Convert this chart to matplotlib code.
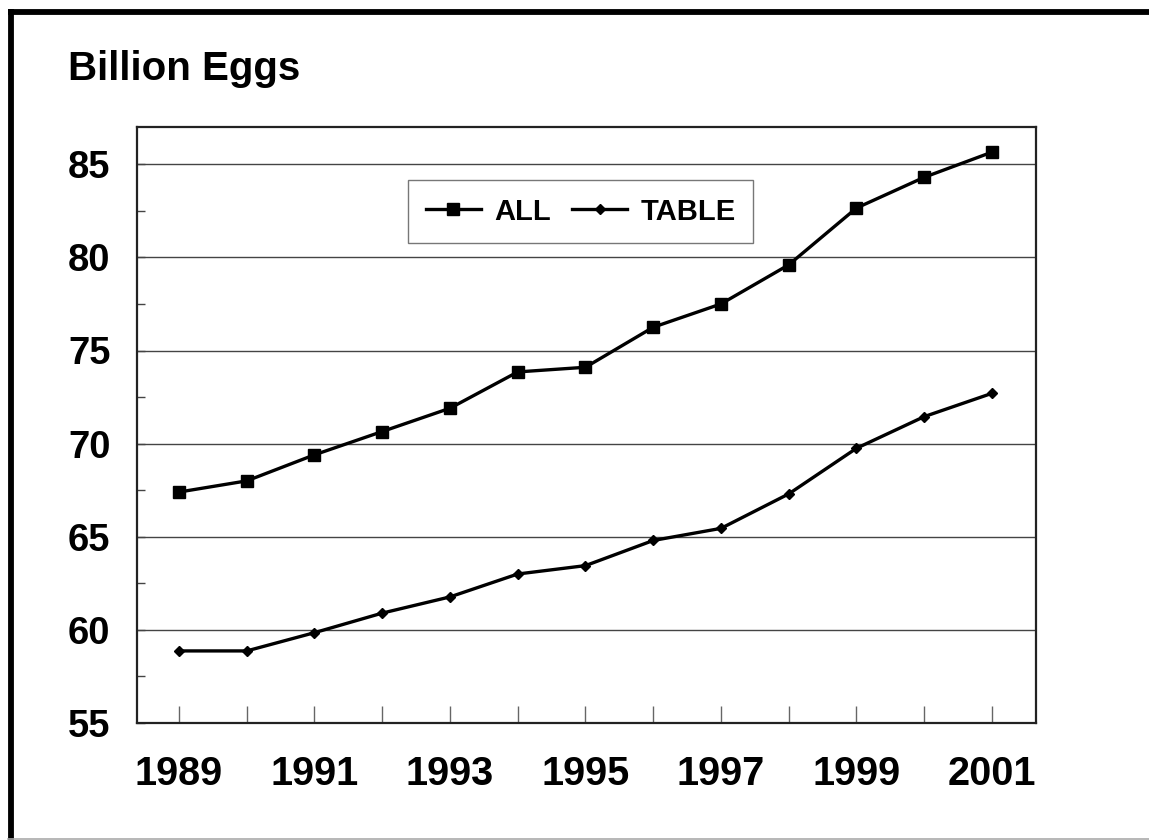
import matplotlib
matplotlib.use("Agg")
import matplotlib.pyplot as plt
from matplotlib.lines import Line2D
from matplotlib.ticker import MultipleLocator

years = [1989, 1990, 1991, 1992, 1993, 1994, 1995, 1996, 1997, 1998, 1999, 2000, 2001]
all_eggs = [67.4, 68.0, 69.4, 70.65, 71.9, 73.85, 74.1, 76.25, 77.5, 79.6, 82.65, 84.3, 85.65]
table_eggs = [58.87, 58.87, 59.85, 60.9, 61.77, 63.0, 63.45, 64.8, 65.45, 67.3, 69.75, 71.45, 72.7]
tick_labels = ["1989", "", "1991", "", "1993", "", "1995", "", "1997", "", "1999", "", "2001"]

plt.rcParams['font.family'] = ['Liberation Sans', 'DejaVu Sans']
plt.rcParams['font.weight'] = 'bold'

W, H = 1149, 840
fig = plt.figure(figsize=(W / 100, H / 100), dpi=100)
ax = fig.add_axes([137 / W, 1 - 723 / H, (1036 - 137) / W, (723 - 127) / H])

x = list(range(len(years)))
ax.plot(x, all_eggs, color='black', lw=2.4, marker='s', markersize=9, label='ALL', zorder=3)
ax.plot(x, table_eggs, color='black', lw=2.4, marker='D', markersize=5, label='TABLE', zorder=3)

ax.set_xlim(-0.62, 12.65)
ax.set_ylim(55, 87)
ax.set_yticks([55, 60, 65, 70, 75, 80, 85])
ax.yaxis.set_minor_locator(MultipleLocator(2.5))
ax.set_xticks(x)
ax.set_xticklabels(tick_labels)
ax.grid(axis='y', which='major', color='#444444', lw=1.0)
ax.set_axisbelow(True)

ax.tick_params(axis='x', direction='in', length=12, width=1, color='#666666',
               labelsize=28.5, pad=23)
ax.tick_params(axis='y', which='both', direction='in', length=6, width=1, color='#444444',
               labelsize=27.5, pad=19)
for lab in ax.get_xticklabels() + ax.get_yticklabels():
    lab.set_fontweight('bold')

for s in ax.spines.values():
    s.set_color('#222222')
    s.set_linewidth(1.6)

fig.text(68 / W, 1 - 80 / H, "Billion Eggs", fontsize=29, fontweight='bold',
         ha='left', va='baseline')

leg = ax.legend(loc='upper left', bbox_to_anchor=(408 / W, 1 - 180 / H),
                bbox_transform=fig.transFigure, ncol=2, frameon=True, fancybox=False,
                edgecolor='#555555', borderaxespad=0, prop={'size': 21, 'weight': 'bold'},
                handlelength=1.9, handletextpad=0.45, columnspacing=0.72, borderpad=0.6)
leg.get_frame().set_linewidth(1.0)

# outer frame: thick black left/top, thin grey bottom
fig.add_artist(Line2D([10.5 / W, 10.5 / W], [0, 1 - 9 / H], color='black', lw=4.2,
                      transform=fig.transFigure, solid_capstyle='butt'))
fig.add_artist(Line2D([8 / W, 1], [1 - 12 / H, 1 - 12 / H], color='black', lw=4.2,
                      transform=fig.transFigure, solid_capstyle='butt'))
fig.add_artist(Line2D([8 / W, 1], [0.6 / H, 0.6 / H], color='#aaaaaa', lw=1.2,
                      transform=fig.transFigure))

fig.savefig("out.png", dpi=100)
